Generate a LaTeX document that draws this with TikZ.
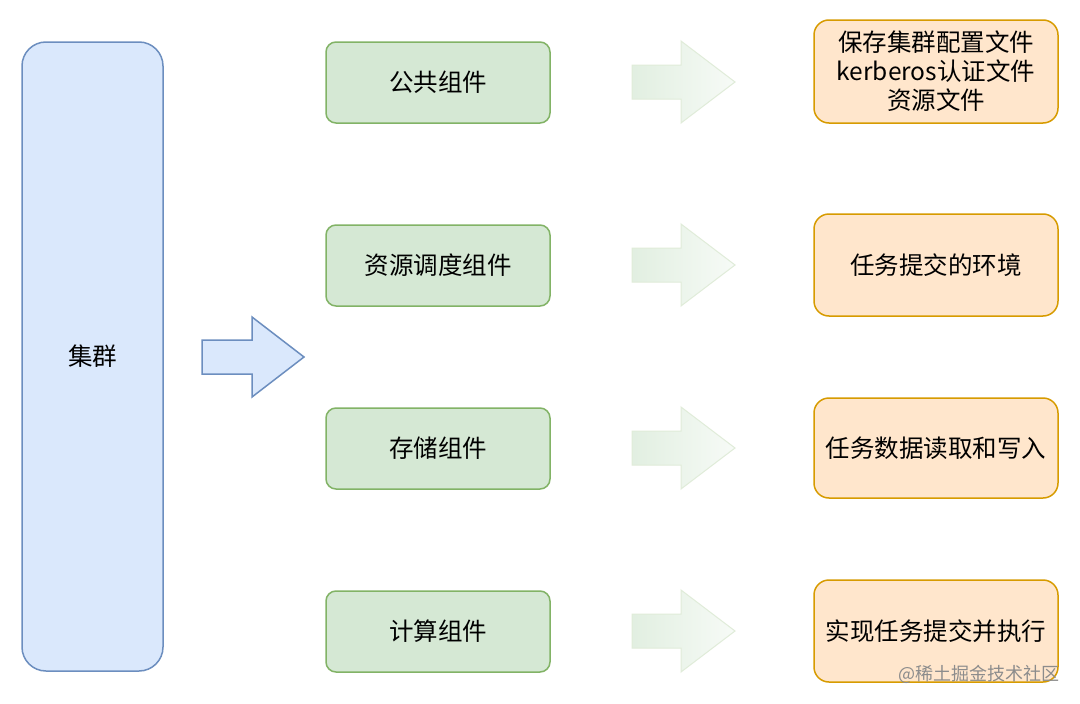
\documentclass[tikz,border=0pt]{standalone}
\usepackage{fontspec}
\newfontfamily\cjk{Noto Sans CJK SC}
\usetikzlibrary{shapes.arrows}
\definecolor{bfill}{HTML}{DAE8FC}\definecolor{bline}{HTML}{6C8EBF}
\definecolor{gfill}{HTML}{D5E8D4}\definecolor{gline}{HTML}{82B366}
\definecolor{ofill}{HTML}{FFE6CC}\definecolor{oline}{HTML}{D79B00}
\tikzset{
  gbox/.style={draw=gline,fill=gfill,line width=1.5pt,rounded corners=10pt,minimum width=224pt,minimum height=81pt,font=\cjk\fontsize{24.5}{29}\selectfont},
  obox/.style={draw=oline,fill=ofill,line width=1.5pt,rounded corners=15pt,minimum width=244pt,font=\cjk\fontsize{24.5}{29}\selectfont,align=center},
}
\begin{document}
\begin{tikzpicture}[x=1pt,y=-1pt]
\useasboundingbox (0,0) rectangle (1080,704);
\fill[white] (0,0) rectangle (1080,704);
% cluster
\node[draw=bline,fill=bfill,line width=1.5pt,rounded corners=24pt,minimum width=141pt,minimum height=629pt,font=\cjk\fontsize{24.5}{29}\selectfont] (cl) at (92.5,356.5) {集群};
% blue arrow
\draw[draw=bline,fill=bfill,line width=1.5pt,line join=miter] (202,340) -- (252,340) -- (252,317) -- (304,357) -- (252,397) -- (252,374) -- (202,374) -- cycle;
% green boxes
\node[gbox] (g1) at (438,82.5) {公共组件};
\node[gbox] (g2) at (438,265.5) {资源调度组件};
\node[gbox] (g3) at (438,448.5) {存储组件};
\node[gbox] (g4) at (438,631.5) {计算组件};
% faded arrows
\foreach \yc in {82,265,448,631}{
  \draw[draw=gline!25,left color=gfill!70,right color=gfill!20,line width=1pt] (632,\yc-17) -- (681,\yc-17) -- (681,\yc-41) -- (735,\yc) -- (681,\yc+41) -- (681,\yc+17) -- (632,\yc+17) -- cycle;
}
% orange boxes
\node[obox,minimum height=103pt] (o1) at (936,71.5) {保存集群配置文件\\kerberos认证文件\\资源文件};
\node[obox,minimum height=102pt] (o2) at (936,265) {任务提交的环境};
\node[obox,minimum height=100pt] (o3) at (936,448) {任务数据读取和写入};
\node[obox,minimum height=102pt] (o4) at (936,631) {实现任务提交并执行};
\node[anchor=east,text=black!45,font=\cjk\fontsize{18}{20}\selectfont,inner sep=0pt] (wm) at (1060,674) {@稀土掘金技术社区};
\end{tikzpicture}
\end{document}
